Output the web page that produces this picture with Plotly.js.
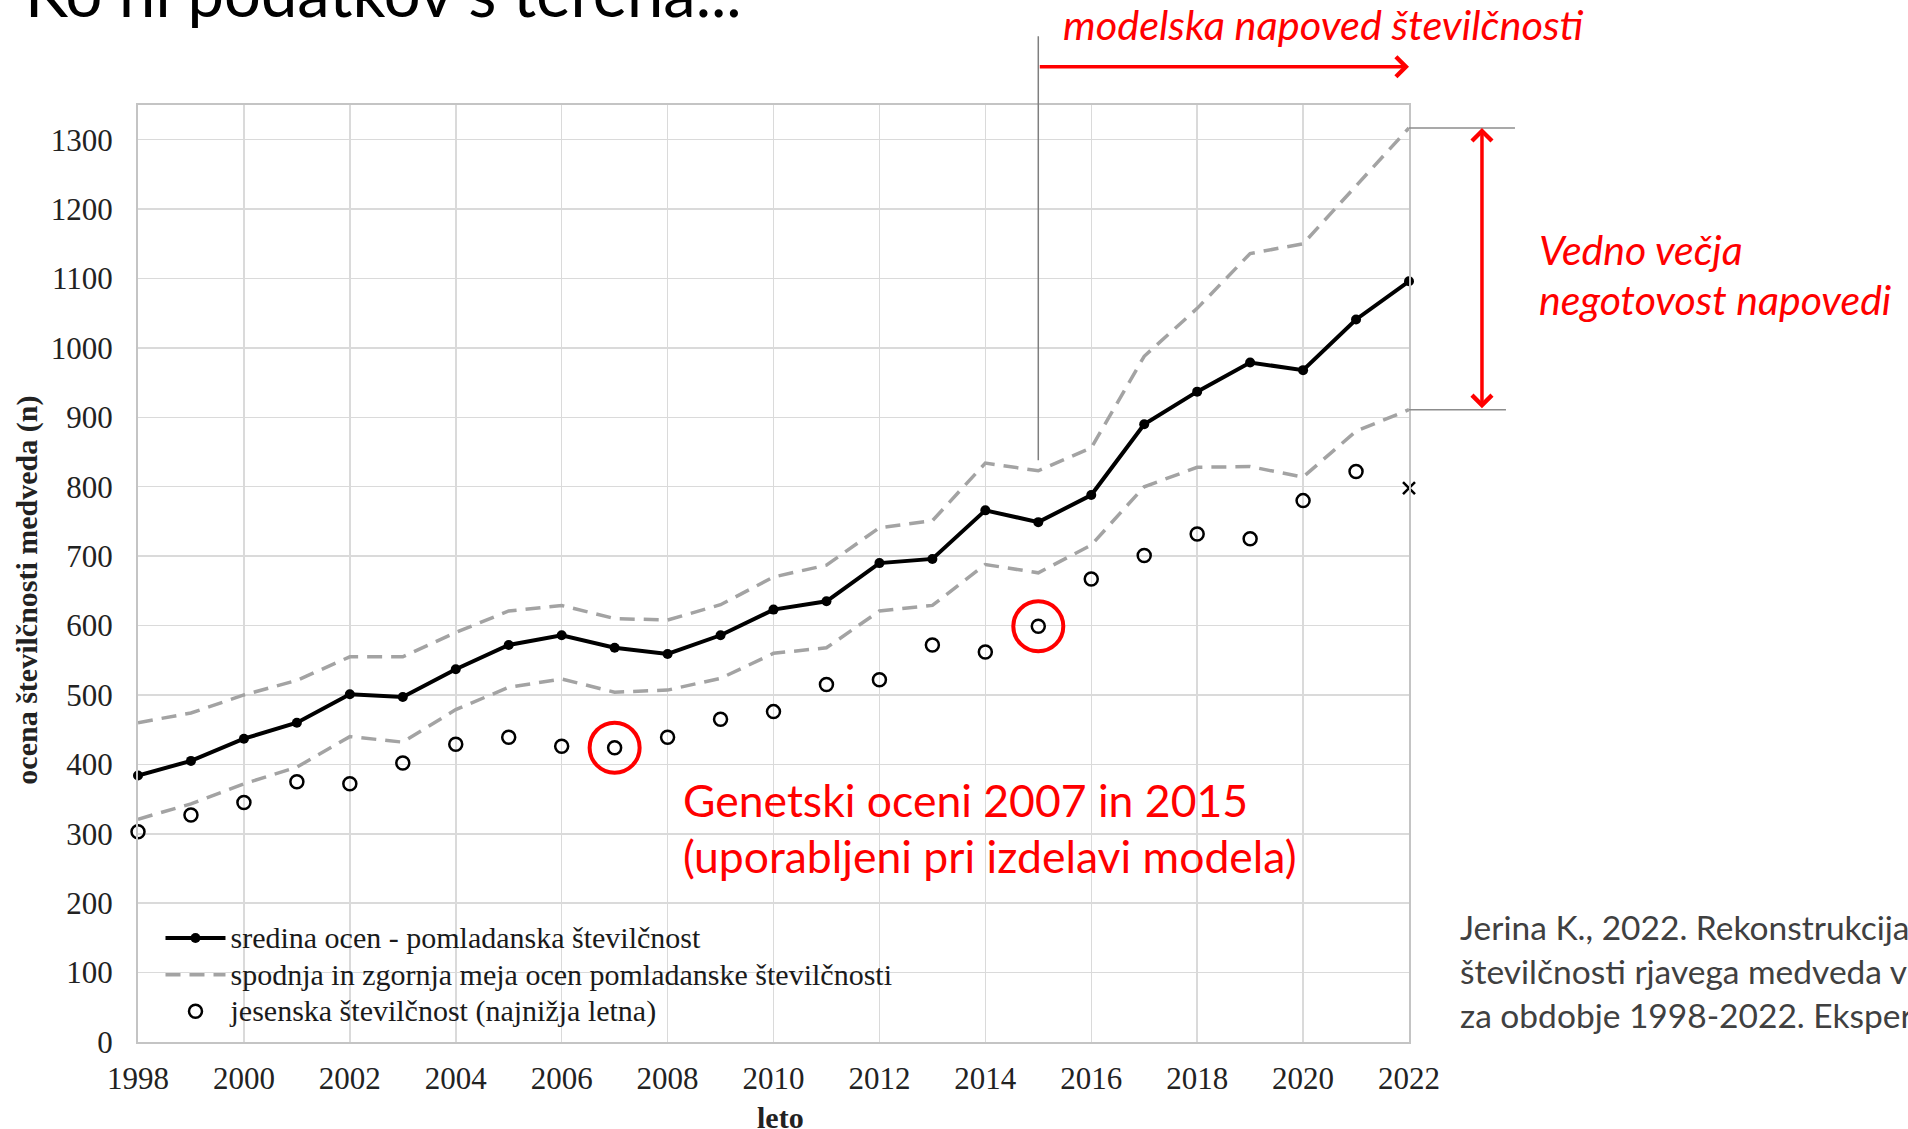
<!DOCTYPE html>
<html><head><meta charset="utf-8">
<script src="https://cdn.plot.ly/plotly-3.0.1.min.js"></script>
<style>html,body{margin:0;padding:0;background:#fff;overflow:hidden}#chart{width:1908px;height:1129px}</style>
</head><body><div id="chart"></div><script>
// ---- data ----
const years = [1998,1999,2000,2001,2002,2003,2004,2005,2006,2007,2008,2009,2010,2011,2012,2013,2014,2015,2016,2017,2018,2019,2020,2021,2022];
const meanSpring = [384,405,437,460,501,497,537,572,586,568,559,586,623,635,690,696,766,749,788,890,937,979,968,1041,1096];
const lowerBound = [321,343,372,396,440,432,479,511,523,504,507,524,560,568,621,629,688,676,716,800,828,829,814,880,911];
const upperBound = [460,474,500,521,555,555,590,621,629,610,608,630,670,687,741,751,834,823,856,988,1057,1136,1150,1233,1317];
const autumnYears = [1998,1999,2000,2001,2002,2003,2004,2005,2006,2007,2008,2009,2010,2011,2012,2013,2014,2015,2016,2017,2018,2019,2020,2021];
const autumnValues = [303,327,345,375,372,402,429,439,426,424,439,465,476,515,522,572,562,599,667,701,732,725,780,822];
const autumnEstYears = [2022];
const autumnEstValues = [798];
const geneticYears = [2007,2015];
const forecastStartYear = 2015;
const xTickVals = [1998,2000,2002,2004,2006,2008,2010,2012,2014,2016,2018,2020,2022];
const yTickVals = [0,100,200,300,400,500,600,700,800,900,1000,1100,1200,1300];

const names = {
  mean: 'sredina ocen - pomladanska številčnost',
  bounds: 'spodnja in zgornja meja ocen pomladanske številčnosti',
  autumn: 'jesenska številčnost (najnižja letna)'
};

// ---- layout geometry (pixels) ----
const L = 137.5, R = 1409, T = 105.2, B = 1041.6;
const Y_MAX = 1350;
const px = x => (x - L) / (R - L);
const py = y => (B - y) / (B - T);
const serif = '"Liberation Serif", "Times New Roman", serif';
const sans = 'Lato, Calibri, sans-serif';
const red = '#ff0000';
const dashGray = '#a3a3a3';
const legendName = s => '<span style="font-size:30px">' + s + '</span>';

const geneticValues = geneticYears.map(y => autumnValues[autumnYears.indexOf(y)]);
const lastIdx = years.length - 1;
const fIdx = years.indexOf(forecastStartYear);

const traces = [
  {x: years, y: upperBound, type: 'scatter', mode: 'lines', name: legendName(names.bounds), legendgroup: 'b', showlegend: false,
   line: {color: dashGray, width: 3.5, dash: '15px,9px'}, hoverinfo: 'skip'},
  {x: years, y: lowerBound, type: 'scatter', mode: 'lines', name: legendName(names.bounds), legendgroup: 'b', legendrank: 2,
   line: {color: dashGray, width: 3.5, dash: '15px,9px'}},
  {x: years, y: meanSpring, type: 'scatter', mode: 'lines+markers', name: legendName(names.mean), legendrank: 1,
   line: {color: '#000', width: 4}, marker: {color: '#000', size: 10}, cliponaxis: false},
  {x: autumnYears, y: autumnValues, type: 'scatter', mode: 'markers', name: legendName(names.autumn), legendrank: 3,
   marker: {symbol: 'circle-open', size: 13, color: '#000', line: {width: 2.5, color: '#000'}}, cliponaxis: false},
  {x: autumnEstYears, y: autumnEstValues, type: 'scatter', mode: 'markers', showlegend: false,
   marker: {symbol: 'x-thin-open', size: 12, color: '#000', line: {width: 2.5, color: '#000'}}, cliponaxis: false},
  {x: geneticYears, y: geneticValues, type: 'scatter', mode: 'markers', showlegend: false,
   marker: {symbol: 'circle-open', size: 50, color: red, line: {width: 4, color: red}}, cliponaxis: false}
];

const axisCommon = {
  showgrid: true, gridcolor: '#dadada', gridwidth: 1.5,
  showline: true, mirror: true, linecolor: '#c4c4c4', linewidth: 2,
  zeroline: false, ticks: '', tickfont: {family: serif, size: 31, color: '#222'}
};

const ann = [];
function txt(text, xpx, ypx, size, opts) {
  ann.push(Object.assign({text: text, xref: 'paper', yref: 'paper', x: px(xpx), y: py(ypx),
    xanchor: 'left', yanchor: 'middle', showarrow: false,
    font: {family: sans, size: size, color: red}}, opts || {}));
}
txt('Ko ni podatkov s terena...', 22, -8, 65, {font: {family: sans, size: 65, color: '#000'}});
txt('<i>modelska napoved številčnosti</i>', 1061, 24, 41.5);
txt('Genetski oceni 2007 in 2015', 681, 799, 44.5);
txt('(uporabljeni pri izdelavi modela)', 681, 855.5, 44.5);
txt('<i>Vedno večja</i>', 1537, 249.5, 41);
txt('<i>negotovost napovedi</i>', 1537, 299.3, 41);
const cite = {font: {family: sans, size: 33.5, color: '#404040'}};
txt('Jerina K., 2022. Rekonstrukcija in napoved', 1458, 927, 33.5, cite);
txt('številčnosti rjavega medveda v Sloveniji', 1458, 971, 33.5, cite);
txt('za obdobje 1998-2022. Ekspertiza', 1458, 1015, 33.5, cite);
txt('<b>ocena številčnosti medveda (n)</b>', 27, 590, 30, {xanchor: 'center', textangle: -90, font: {family: serif, size: 30, color: '#222'}});
txt('<b>leto</b>', 780, 1117, 30, {xanchor: 'center', font: {family: serif, size: 30, color: '#222'}});

// red arrows
ann.push({xref: 'x', yref: 'paper', x: years[lastIdx], y: py(67), axref: 'x', ayref: 'pixel',
  ax: forecastStartYear, ay: 0, text: '', showarrow: true, arrowhead: 4, arrowsize: 1.1, arrowwidth: 3.5,
  arrowcolor: red, standoff: 0});
ann.push({xref: 'paper', yref: 'y', x: px(1482), y: upperBound[lastIdx], axref: 'pixel', ayref: 'y',
  ax: 0, ay: lowerBound[lastIdx], text: '', showarrow: true, arrowhead: 4, startarrowhead: 4, arrowside: 'end+start',
  arrowsize: 1.1, startarrowsize: 1.1, arrowwidth: 3.5, arrowcolor: red, standoff: 0, startstandoff: 0});

const shapes = [
  {type: 'line', xref: 'x', yref: 'paper', x0: forecastStartYear, x1: forecastStartYear,
   y0: (upperBound[fIdx] + 15) / Y_MAX, y1: py(36.5), line: {color: '#7f7f7f', width: 1.5}},
  {type: 'line', xref: 'paper', yref: 'y', x0: 1, x1: px(1515), y0: upperBound[lastIdx], y1: upperBound[lastIdx],
   line: {color: '#8c8c8c', width: 1.5}},
  {type: 'line', xref: 'paper', yref: 'y', x0: 1, x1: px(1506), y0: lowerBound[lastIdx], y1: lowerBound[lastIdx],
   line: {color: '#8c8c8c', width: 1.5}}
];

const layout = {
  width: 1908, height: 1129,
  margin: {l: L, r: 1908 - R, t: T, b: 1129 - B, pad: 0},
  paper_bgcolor: '#fff', plot_bgcolor: '#fff',
  showlegend: true,
  legend: {x: px(160), y: py(914.5), xanchor: 'left', yanchor: 'top', bgcolor: 'rgba(0,0,0,0)',
    font: {family: serif, size: 25.8, color: '#1a1a1a'}, tracegroupgap: 0, itemwidth: 60},
  xaxis: Object.assign({}, axisCommon, {range: [years[0], years[lastIdx]], tickmode: 'array', tickvals: xTickVals,
    ticktext: xTickVals.map(String), ticklabelstandoff: 8}),
  yaxis: Object.assign({}, axisCommon, {range: [0, Y_MAX], tickmode: 'array', tickvals: yTickVals,
    ticktext: yTickVals.map(String), ticklabelstandoff: 17}),
  annotations: ann,
  shapes: shapes
};

Plotly.newPlot('chart', traces, layout, {displayModeBar: false, staticPlot: true});
</script></body></html>
